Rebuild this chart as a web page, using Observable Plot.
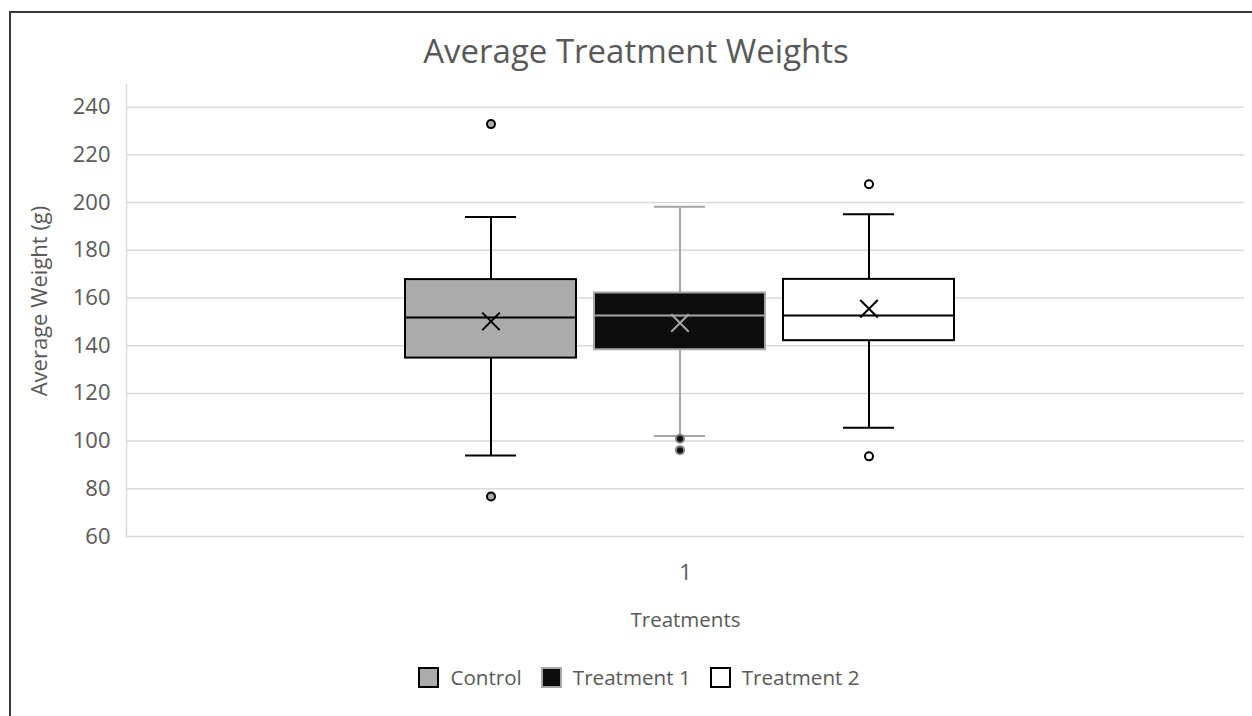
<!DOCTYPE html>
<html>
<head>
<meta charset="utf-8">
<script src="https://cdn.jsdelivr.net/npm/d3@7"></script>
<script src="https://cdn.jsdelivr.net/npm/@observablehq/plot@0.6"></script>
<style>
  html, body { margin: 0; padding: 0; background: #fff; overflow: hidden; }
  #page { position: relative; width: 1252px; height: 716px; font-family: "Open Sans", sans-serif; color: #595959; }
  #border { position: absolute; left: 9px; top: 11px; width: 1400px; height: 900px; border-top: 2px solid #3a3a3a; border-left: 2px solid #3a3a3a; box-sizing: border-box; }
  #title { position: absolute; left: 10px; width: 1252px; top: 31px; text-align: center; font-size: 33px; line-height: 40px; color: #595959; }
  #chart { position: absolute; left: 0; top: 70px; }
  #legend { position: absolute; left: 10px; width: 1258px; top: 665px; display: flex; justify-content: center; align-items: center; font-size: 20.6px; line-height: 24px; color: #595959; }
  .item { display: flex; align-items: center; margin: 0 9.5px; }
  .sw { width: 21px; height: 21px; box-sizing: border-box; border: 2px solid #000; margin-right: 11px; }
</style>
</head>
<body>
<div id="page">
  <div id="border"></div>
  <div id="title">Average Treatment Weights</div>
  <div id="chart"></div>
  <div id="legend"></div>
</div>
<script>
// ---- data ----
const categories = ["1"];
const series = ["Control", "Treatment 1", "Treatment 2"];
const q1 = [134.8, 138.3, 142.1];
const median = [151.8, 152.7, 152.7];
const q3 = [167.7, 162.1, 167.8];
const whiskerLow = [94.0, 102.1, 105.6];
const whiskerHigh = [194.0, 198.2, 195.1];
const mean = [150.2, 149.5, 155.5];
const outliers = [[232.9, 76.8], [101.0, 96.2], [207.7, 93.6]];
const yTicks = [60, 80, 100, 120, 140, 160, 180, 200, 220, 240];
const yLabel = "Average Weight (g)";
const xLabel = "Treatments";

// ---- styles ----
const fillOf = {"Control": "#ababab", "Treatment 1": "#0d0d0d", "Treatment 2": "#ffffff"};
const strokeOf = {"Control": "#000000", "Treatment 1": "#a6a6a6", "Treatment 2": "#000000"};

const rows = series.map((s, i) => ({
  cat: categories[0], series: s, q1: q1[i], median: median[i], q3: q3[i],
  lo: whiskerLow[i], hi: whiskerHigh[i], mean: mean[i]
}));
const outRows = series.flatMap((s, i) => outliers[i].map(v => ({cat: categories[0], series: s, value: v})));

const F = d => fillOf[d.series];
const S = d => strokeOf[d.series];

const chart = Plot.plot({
  width: 1252,
  height: 570,
  marginLeft: 126,
  marginRight: 8,
  marginTop: 14,
  marginBottom: 104,
  style: {fontFamily: "Open Sans, sans-serif", color: "#595959", background: "transparent"},
  fx: {domain: categories, padding: 0},
  x: {domain: series, paddingInner: 0.095, paddingOuter: 1.505, align: 0.491, axis: null},
  y: {domain: [60, 249.5], axis: null},
  color: {type: "identity"},
  marks: [
    Plot.gridY(yTicks, {stroke: "#d9d9d9", strokeOpacity: 1, strokeWidth: 1.5}),
    Plot.frame({anchor: "left", stroke: "#d9d9d9", strokeWidth: 1.5}),
    Plot.axisY(yTicks, {tickSize: 0, tickPadding: 16, fontSize: 22, label: null}),
    Plot.axisFx({anchor: "bottom", tickSize: 0, tickPadding: 28, fontSize: 22, label: null}),
    Plot.text([yLabel], {frameAnchor: "left", textAnchor: "middle", rotate: -90, dx: -87, dy: -9.5, fontSize: 22, letterSpacing: "0.5px", fill: "#595959"}),
    Plot.text([xLabel], {frameAnchor: "bottom", dy: 90, fontSize: 20.5, fill: "#595959"}),
    Plot.ruleX(rows, {fx: "cat", x: "series", y1: "lo", y2: "hi", stroke: S, strokeWidth: 2}),
    Plot.tickY(rows, {fx: "cat", x: "series", y: "lo", stroke: S, strokeWidth: 2, insetLeft: 60, insetRight: 60}),
    Plot.tickY(rows, {fx: "cat", x: "series", y: "hi", stroke: S, strokeWidth: 2, insetLeft: 60, insetRight: 60}),
    Plot.barY(rows, {fx: "cat", x: "series", y1: "q1", y2: "q3", fill: F, stroke: S, strokeWidth: 2}),
    Plot.tickY(rows, {fx: "cat", x: "series", y: "median", stroke: S, strokeWidth: 2}),
    Plot.dot(rows, {fx: "cat", x: "series", y: "mean", symbol: "times", r: 8, stroke: S, strokeWidth: 2}),
    Plot.dot(outRows, {fx: "cat", x: "series", y: "value", r: 4, fill: F, stroke: d => d.series === "Treatment 1" ? "#7f7f7f" : "#000000", strokeWidth: 2})
  ]
});
document.getElementById("chart").appendChild(chart);

const legend = document.getElementById("legend");
series.forEach(s => {
  const it = document.createElement("div");
  it.className = "item";
  const sw = document.createElement("div");
  sw.className = "sw";
  sw.style.background = fillOf[s];
  sw.style.borderColor = strokeOf[s];
  const t = document.createElement("span");
  t.textContent = s;
  it.appendChild(sw); it.appendChild(t);
  legend.appendChild(it);
});
</script>
</body>
</html>
